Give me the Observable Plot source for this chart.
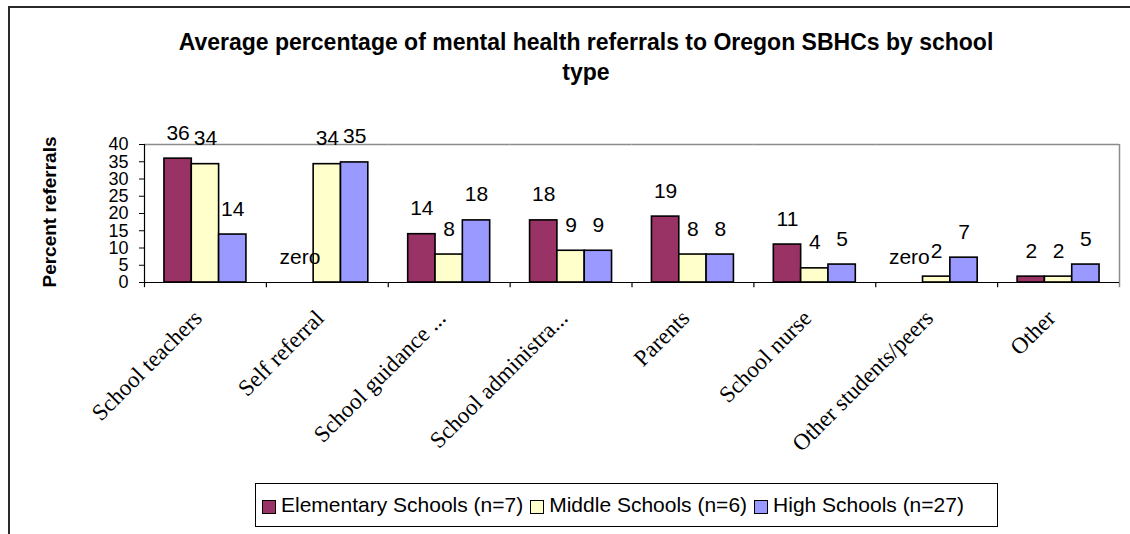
<!DOCTYPE html>
<html><head><meta charset="utf-8">
<script src="https://cdn.jsdelivr.net/npm/d3@7"></script>
<script src="https://cdn.jsdelivr.net/npm/@observablehq/plot@0.6"></script>
<style>
body{margin:0;background:#fff;overflow:hidden;}
#wrap{position:relative;width:1130px;height:534px;overflow:hidden;font-family:"Liberation Sans",Arial,sans-serif;color:#000;background:#fff;}
#chart{position:absolute;left:0;top:0;}
#frame{position:absolute;left:8px;top:6px;width:1200px;height:600px;border-left:2px solid #2a2a2a;border-top:2px solid #2a2a2a;}
#title{position:absolute;left:86px;top:27px;width:1000px;text-align:center;font-weight:bold;font-size:23px;line-height:30px;}
#ylabel{position:absolute;left:50px;top:212px;transform:translate(-50%,-50%) rotate(-90deg);font-weight:bold;font-size:19px;white-space:nowrap;}
#legend{position:absolute;left:255px;top:483px;width:743px;height:44px;box-sizing:border-box;border:1px solid #000;display:flex;align-items:center;padding-left:6px;font-size:21px;background:#fff;}
.item{display:flex;align-items:center;margin-right:7px;}
.sw{width:12px;height:12px;border:1px solid #000;margin-right:5px;margin-top:3px;}
</style></head>
<body>
<div id="wrap">
  <div id="chart"></div>
  <div id="frame"></div>
  <div id="title">Average percentage of mental health referrals to Oregon SBHCs by school<br>type</div>
  <div id="ylabel">Percent referrals</div>
  <div id="legend"></div>
</div>
<script>
const categories = ["School teachers","Self referral","School guidance ...","School administra...","Parents","School nurse","Other students/peers","Other"];
const series = ["Elementary Schools (n=7)","Middle Schools (n=6)","High Schools (n=27)"];
const elementary = [35.9, 0, 14, 18, 19.1, 11, 0, 1.7];
const middle = [34.3, 34.3, 8.1, 9.2, 8.1, 4.1, 1.7, 1.7];
const high = [13.9, 34.8, 18, 9.2, 8.1, 5.2, 7.2, 5.2];
const colors = ["#993366","#FFFFCC","#9999FF"];
const yTicks = [0,5,10,15,20,25,30,35,40];

const seriesValues = [elementary, middle, high];
const rows = categories.flatMap((c, i) => series.map((s, j) => ({cat: c, s, v: seriesValues[j][i]})));
const fmt = d3.format(".0f");
const label = d => d.v === 0 ? "zero" : fmt(d.v);

const W = 1130, H = 534, mL = 144, mR = 11, mT = 144, mB = 252;
const facetW = (W - mL - mR) / categories.length;
const po = 0.73;
const step = facetW / (series.length + 2 * po);
const edge = po * step + step / 2;

const firstRow = [{cat: categories[0], s: series[0]}];
const lastRow = [{cat: categories[categories.length - 1], s: series[series.length - 1]}];
const catRows = categories.map(c => ({cat: c, s: series[0]}));

const chart = Plot.plot({
  width: W, height: H,
  marginLeft: mL, marginRight: mR, marginTop: mT, marginBottom: mB,
  style: {background: "transparent", fontFamily: "Liberation Sans, Arial, sans-serif", fontSize: "18px", color: "#000", overflow: "visible"},
  fx: {domain: categories, paddingInner: 0, paddingOuter: 0, round: false, axis: null, label: null},
  x: {domain: series, paddingInner: 0, paddingOuter: po, round: false, axis: null, label: null},
  y: {domain: [0, 40], axis: null, label: null},
  color: {domain: series, range: colors},
  marks: [
    Plot.ruleY([40], {stroke: "#8c8c8c", strokeWidth: 1.5}),
    Plot.ruleX(lastRow, {fx: "cat", x: "s", dx: edge, y1: -1.5, y2: 40, stroke: "#8c8c8c", strokeWidth: 1.5}),
    Plot.barY(rows, {fx: "cat", x: "s", y: "v", fill: "s", stroke: "#000", strokeWidth: 1.6, inset: 0}),
    Plot.ruleY([0], {stroke: "#000", strokeWidth: 1.2}),
    Plot.ruleX(firstRow, {fx: "cat", x: "s", dx: -edge, y1: 0, y2: 40, stroke: "#000", strokeWidth: 1.2}),
    Plot.ruleX(catRows, {fx: "cat", x: "s", dx: -edge, y1: 0, y2: -1.5, stroke: "#000", strokeWidth: 1.2}),
    Plot.axisY({ticks: yTicks, tickSize: 5, tickPadding: 11, fontSize: 18, label: null, stroke: "#000"}),
    Plot.text(rows, {fx: "cat", x: "s", y: "v", text: label, dy: -19, lineAnchor: "bottom", fontSize: 21, fill: "#000"}),
    Plot.text(categories, {fx: d => d, text: d => d, frameAnchor: "bottom", rotate: -45, textAnchor: "end", lineAnchor: "bottom", dx: -2, dy: 37, fontFamily: "Liberation Serif, Times New Roman, serif", fontSize: 23, fill: "#000"})
  ]
});
document.getElementById("chart").appendChild(chart);

const legend = document.getElementById("legend");
series.forEach((s, i) => {
  const item = document.createElement("div");
  item.className = "item";
  const sw = document.createElement("div");
  sw.className = "sw";
  sw.style.background = colors[i];
  const t = document.createElement("span");
  t.textContent = s;
  item.appendChild(sw); item.appendChild(t);
  legend.appendChild(item);
});
</script>
</body></html>
